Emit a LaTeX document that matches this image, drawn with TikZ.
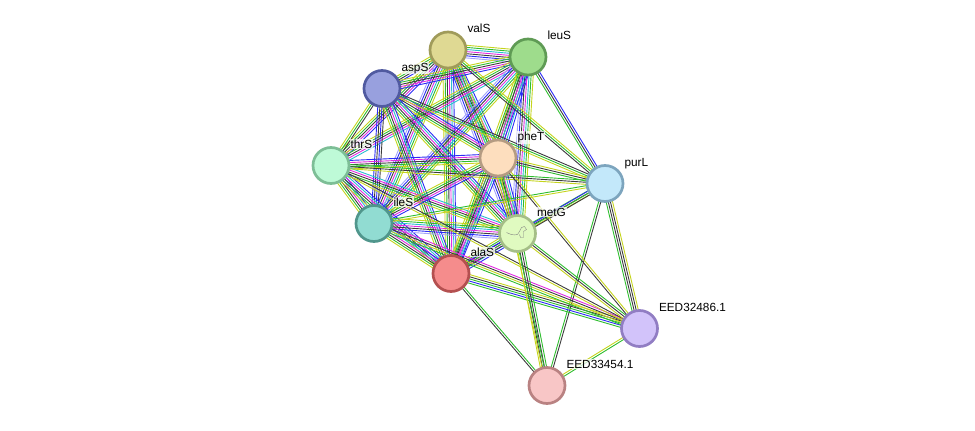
\documentclass[tikz,border=0pt]{standalone}
\usepackage{fontspec}
\setmainfont{Liberation Sans}
\usetikzlibrary{calc,backgrounds}
\definecolor{neigh}{HTML}{2EBD2E}
\definecolor{cooc}{HTML}{2B2BF5}
\definecolor{coexp}{HTML}{3C3C3C}
\definecolor{exper}{HTML}{E02BE0}
\definecolor{dbase}{HTML}{2BBBD0}
\definecolor{tmine}{HTML}{C5D41E}
\definecolor{homol}{HTML}{A3A3FA}
\definecolor{valSfill}{HTML}{DFD993}\definecolor{valSline}{HTML}{A09B5A}
\definecolor{leuSfill}{HTML}{9EDC8C}\definecolor{leuSline}{HTML}{5F9B55}
\definecolor{aspSfill}{HTML}{98A0DE}\definecolor{aspSline}{HTML}{505AA0}
\definecolor{thrSfill}{HTML}{BEFAD7}\definecolor{thrSline}{HTML}{7DBE96}
\definecolor{pheTfill}{HTML}{FDDEBE}\definecolor{pheTline}{HTML}{B49B82}
\definecolor{purLfill}{HTML}{C3E8FA}\definecolor{purLline}{HTML}{7DA5BE}
\definecolor{ileSfill}{HTML}{91DCD2}\definecolor{ileSline}{HTML}{50968C}
\definecolor{metGfill}{HTML}{E0FAC0}\definecolor{metGline}{HTML}{A5BE87}
\definecolor{alaSfill}{HTML}{F58C8C}\definecolor{alaSline}{HTML}{B45050}
\definecolor{eedAfill}{HTML}{D2C3FA}\definecolor{eedAline}{HTML}{917DC3}
\definecolor{eedBfill}{HTML}{F8C6C6}\definecolor{eedBline}{HTML}{B98282}
\tikzset{
prot/.style={circle,minimum size=36pt,inner sep=0pt,line width=2.7pt,fill=#1fill,draw=#1line},
plabel/.style={anchor=base west,inner sep=.8pt,fill=white,fill opacity=.75,text opacity=1,font=\fontsize{11.8}{14}\selectfont},
strand/.style={line width=.9pt}}
\newcommand{\bundle}[3]{%
  \foreach \c [count=\k] in {#3} {\global\let\nk\k}%
  \foreach \c [count=\k] in {#3} {%
    \pgfmathsetmacro{\off}{(\k-(\nk+1)/2)*2.1}%
    \draw[strand,draw=\c] ($(#1.center)!\off pt!90:(#2.center)$) -- ($(#2.center)!\off pt!-90:(#1.center)$);
  }}

\begin{document}
\begin{tikzpicture}[x=1pt,y=-1pt]
\useasboundingbox (0,0) rectangle (975,431);
\node[prot=valS] (valS) at (448,50) {};
\node[prot=leuS] (leuS) at (528,57) {};
\node[prot=aspS] (aspS) at (382,88.5) {};
\node[prot=thrS] (thrS) at (331,165.5) {};
\node[prot=pheT] (pheT) at (498,158) {};
\node[prot=purL] (purL) at (605,183.5) {};
\node[prot=ileS] (ileS) at (374,223.5) {};
\node[prot=metG] (metG) at (517.5,233.5) {};
\node[prot=alaS] (alaS) at (451,273.5) {};
\node[prot=eedA] (eedA) at (639.5,328.5) {};
\node[prot=eedB] (eedB) at (547,385.5) {};
\draw[gray,line width=.4pt,shift={(metG.center)}] (-11,-1) .. controls (-7,1) and (-4,2) .. (0,1) -- (2,-2) -- (4,-6) -- (7,-7) -- (9,-4) -- (6,-2) -- (6,4) -- (3,4) -- (2,1);
\begin{scope}[on background layer]
\bundle{valS}{leuS}{homol,cooc,coexp,exper,dbase,neigh,tmine}
\bundle{valS}{aspS}{tmine,neigh,coexp,cooc}
\bundle{valS}{thrS}{tmine,neigh,coexp,exper,cooc}
\bundle{valS}{pheT}{tmine,neigh,coexp,exper,dbase,cooc}
\bundle{valS}{ileS}{homol,cooc,coexp,exper,dbase,neigh,tmine}
\bundle{valS}{metG}{homol,cooc,coexp,exper,dbase,neigh,tmine}
\bundle{valS}{alaS}{tmine,neigh,coexp,exper,dbase,cooc}
\bundle{leuS}{aspS}{tmine,neigh,coexp,exper,cooc}
\bundle{leuS}{thrS}{tmine,neigh,coexp,exper,dbase}
\bundle{leuS}{pheT}{tmine,neigh,coexp,exper,dbase,cooc}
\bundle{leuS}{ileS}{homol,cooc,coexp,exper,dbase,neigh,tmine}
\bundle{leuS}{metG}{homol,cooc,coexp,exper,dbase,neigh,tmine}
\bundle{leuS}{alaS}{tmine,neigh,coexp,exper,dbase,cooc}
\bundle{aspS}{thrS}{tmine,neigh,coexp}
\bundle{aspS}{pheT}{tmine,neigh,coexp,exper,cooc}
\bundle{aspS}{ileS}{cooc,coexp,cooc,coexp}
\bundle{aspS}{metG}{tmine,neigh,coexp,exper,dbase,cooc}
\bundle{aspS}{alaS}{tmine,neigh,coexp,exper,dbase,cooc}
\bundle{thrS}{pheT}{tmine,neigh,coexp,exper,cooc}
\bundle{thrS}{ileS}{tmine,neigh,coexp,exper,dbase,cooc}
\bundle{thrS}{metG}{tmine,neigh,coexp,exper,dbase}
\bundle{thrS}{alaS}{tmine,neigh,coexp,exper,dbase,cooc}
\bundle{pheT}{ileS}{tmine,neigh,coexp,exper,cooc}
\bundle{pheT}{metG}{tmine,neigh,coexp,exper,dbase,cooc}
\bundle{pheT}{alaS}{tmine,neigh,coexp,exper,dbase,cooc}
\bundle{ileS}{metG}{homol,cooc,coexp,exper,dbase,neigh,tmine}
\bundle{ileS}{alaS}{tmine,neigh,coexp,exper,dbase,cooc}
\bundle{metG}{alaS}{tmine,neigh,coexp,exper,dbase,cooc}
\bundle{purL}{valS}{tmine,neigh,coexp}
\bundle{purL}{leuS}{cooc,coexp,neigh}
\bundle{purL}{aspS}{coexp,neigh,tmine}
\bundle{purL}{thrS}{neigh,coexp,tmine}
\bundle{purL}{pheT}{tmine,coexp,neigh}
\bundle{purL}{ileS}{neigh,tmine}
\bundle{purL}{metG}{neigh,coexp,tmine}
\bundle{purL}{alaS}{cooc,neigh,coexp}
\bundle{purL}{eedA}{neigh,coexp,coexp,tmine}
\bundle{purL}{eedB}{neigh,coexp}
\bundle{eedA}{alaS}{tmine,coexp,neigh,cooc,neigh}
\bundle{eedA}{ileS}{exper,coexp,tmine,neigh}
\bundle{eedA}{thrS}{coexp,tmine}
\bundle{eedA}{metG}{neigh,coexp,tmine}
\bundle{eedA}{pheT}{tmine,coexp}
\bundle{eedA}{eedB}{tmine,neigh}
\bundle{eedB}{alaS}{neigh,coexp}
\bundle{eedB}{metG}{neigh,coexp,coexp,tmine}
\bundle{eedB}{pheT}{neigh,tmine}
\end{scope}
\node[plabel] (lvalS) at ($(valS)+(18.5,-17.5)$) {valS};
\node[plabel] (lleuS) at ($(leuS)+(18.5,-17.5)$) {leuS};
\node[plabel] (laspS) at ($(aspS)+(18.5,-17.5)$) {aspS};
\node[plabel] (lthrS) at ($(thrS)+(18.5,-17.5)$) {thrS};
\node[plabel] (lpheT) at ($(pheT)+(18.5,-17.5)$) {pheT};
\node[plabel] (lpurL) at ($(purL)+(18.5,-17.5)$) {purL};
\node[plabel] (lileS) at ($(ileS)+(18.5,-17.5)$) {ileS};
\node[plabel] (lmetG) at ($(metG)+(18.5,-17.5)$) {metG};
\node[plabel] (lalaS) at ($(alaS)+(18.5,-17.5)$) {alaS};
\node[plabel] (leedA) at ($(eedA)+(18.5,-17.5)$) {EED32486.1};
\node[plabel] (leedB) at ($(eedB)+(18.5,-17.5)$) {EED33454.1};
\end{tikzpicture}
\end{document}
